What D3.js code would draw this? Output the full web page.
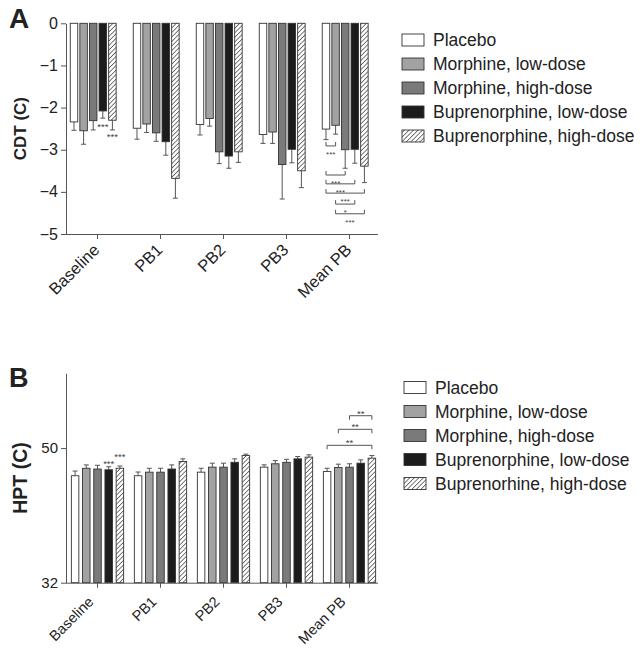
<!DOCTYPE html>
<html><head><meta charset="utf-8">
<script src="https://cdn.jsdelivr.net/npm/d3@7"></script>
<style>
html,body{margin:0;padding:0;background:#fff;}
svg{display:block;font-family:"Liberation Sans",Arial,sans-serif;}
</style></head>
<body>
<svg id="chart" width="644" height="658"></svg>
<script>
// ---------- DATA ----------
const categories = ["Baseline", "PB1", "PB2", "PB3", "Mean PB"];
const seriesA = ["Placebo", "Morphine, low-dose", "Morphine, high-dose", "Buprenorphine, low-dose", "Buprenorphine, high-dose"];
const seriesB = ["Placebo", "Morphine, low-dose", "Morphine, high-dose", "Buprenorphine, low-dose", "Buprenorhine, high-dose"];

// Panel A: CDT (C), mean and SEM per series across categories
const cdtPlacebo   = [-2.34, -2.49, -2.40, -2.64, -2.51];
const cdtMorphLow  = [-2.55, -2.39, -2.26, -2.58, -2.42];
const cdtMorphHigh = [-2.31, -2.60, -3.05, -3.35, -3.00];
const cdtBupLow    = [-2.08, -2.81, -3.15, -2.99, -2.99];
const cdtBupHigh   = [-2.30, -3.68, -3.05, -3.50, -3.39];
const cdtErrPlacebo   = [0.20, 0.26, 0.25, 0.21, 0.25];
const cdtErrMorphLow  = [0.32, 0.20, 0.18, 0.27, 0.21];
const cdtErrMorphHigh = [0.22, 0.20, 0.28, 0.82, 0.44];
const cdtErrBupLow    = [0.17, 0.32, 0.29, 0.32, 0.33];
const cdtErrBupHigh   = [0.23, 0.47, 0.25, 0.40, 0.39];
const cdtTicks = [-5, -4, -3, -2, -1, 0];

// Panel B: HPT (C)
const hptPlacebo   = [46.30, 46.30, 46.78, 47.45, 46.86];
const hptMorphLow  = [47.30, 46.78, 47.45, 47.90, 47.40];
const hptMorphHigh = [47.20, 46.78, 47.45, 48.10, 47.45];
const hptBupLow    = [47.10, 47.20, 48.10, 48.56, 47.98];
const hptBupHigh   = [47.30, 48.20, 49.00, 48.79, 48.65];
const hptErrPlacebo   = [0.63, 0.50, 0.52, 0.31, 0.44];
const hptErrMorphLow  = [0.45, 0.52, 0.53, 0.43, 0.45];
const hptErrMorphHigh = [0.50, 0.52, 0.53, 0.40, 0.45];
const hptErrBupLow    = [0.40, 0.55, 0.46, 0.31, 0.44];
const hptErrBupHigh   = [0.30, 0.36, 0.19, 0.31, 0.35];
const hptTicks = [32, 50];

// Significance annotations: [category, seriesIndex, label, level(data units)]
const starsA = [["Baseline", 3, "***", -2.40], ["Baseline", 4, "***", -2.63]];
const starsB = [["Baseline", 3, "***", 48.18], ["Baseline", 4, "***", 49.07]];
// Brackets: [category, fromSeries, toSeries, label, level(data units)]
const bracketsA = [
  ["Mean PB", 0, 1, "***", -2.91],
  ["Mean PB", 0, 2, "***", -3.60],
  ["Mean PB", 0, 3, "***", -3.81],
  ["Mean PB", 0, 4, "***", -4.03],
  ["Mean PB", 1, 3, "*",   -4.29],
  ["Mean PB", 1, 4, "***", -4.52]
];
const bracketsB = [
  ["Mean PB", 0, 4, "**", 50.37],
  ["Mean PB", 1, 4, "**", 52.51],
  ["Mean PB", 2, 4, "**", 54.33]
];

// ---------- STYLE ----------
const fills = ["#ffffff", "#a2a2a2", "#7a7a7a", "#1c1c1c", "url(#hatch)"];
const axisColor = "#555";
const textColor = "#222";
const font = '"Liberation Sans", Arial, sans-serif';

const svg = d3.select("#chart");
const defs = svg.append("defs");
const pat = defs.append("pattern").attr("id", "hatch")
  .attr("patternUnits", "userSpaceOnUse").attr("width", 3.2).attr("height", 3.2)
  .attr("patternTransform", "rotate(45)");
pat.append("rect").attr("width", 3.2).attr("height", 3.2).attr("fill", "#fff");
pat.append("line").attr("x1", 0).attr("y1", 0).attr("x2", 0).attr("y2", 3.2)
  .attr("stroke", "#222").attr("stroke-width", 1.2);

function buildRows(means, errs) {
  return categories.map((c, ci) => ({
    cat: c,
    vals: means.map((m, si) => ({ si, v: m[ci], e: errs[si][ci] }))
  }));
}

function drawPanel(opt) {
  const g = svg.append("g");
  const x0 = d3.scaleBand().domain(categories).range([opt.left, opt.left + 315]);
  const x1 = d3.scaleBand().domain(d3.range(5)).range(opt.innerRange).paddingInner(opt.pad);
  const y = d3.scaleLinear().domain(opt.domain).range([opt.bottom, opt.top]);
  const cx = c => x0(c) + x0.bandwidth() / 2;
  const rows = buildRows(opt.means, opt.errs);
  const base = opt.baseValue;

  // bars
  rows.forEach(r => {
    const cg = g.append("g");
    r.vals.forEach(d => {
      const xl = cx(r.cat) + x1(d.si);
      const y1 = y(base), y2 = y(d.v);
      const ye = y(d.v + opt.errDir * d.e);
      const xm = xl + x1.bandwidth() / 2;
      cg.append("line").attr("x1", xm).attr("x2", xm).attr("y1", y2).attr("y2", ye)
        .attr("stroke", "#555").attr("stroke-width", 1);
      cg.append("line").attr("x1", xm - 2.5).attr("x2", xm + 2.5).attr("y1", ye).attr("y2", ye)
        .attr("stroke", "#555").attr("stroke-width", 1);
      cg.append("rect").attr("x", xl).attr("width", x1.bandwidth())
        .attr("y", Math.min(y1, y2)).attr("height", Math.abs(y2 - y1))
        .attr("fill", fills[d.si]).attr("stroke", "#333").attr("stroke-width", 0.9);
    });
  });

  // y axis
  const yAxis = d3.axisLeft(y).tickValues(opt.ticks).tickSize(5).tickSizeOuter(0)
    .tickFormat(d => d < 0 ? "\u2212" + Math.abs(d) : String(d));
  const ya = g.append("g").attr("transform", `translate(${opt.left},0)`).call(yAxis);
  ya.select(".domain").attr("stroke", axisColor);
  ya.selectAll(".tick line").attr("stroke", axisColor);
  ya.selectAll(".tick text").attr("fill", textColor).attr("font-size", opt.tickFont)
    .attr("font-family", font).attr("x", -8);

  // x axis
  const xAxis = d3.axisBottom(x0).tickSize(5).tickSizeOuter(0);
  const xa = g.append("g").attr("transform", `translate(0,${opt.bottom})`).call(xAxis);
  xa.select(".domain").attr("d", `M${opt.left},0.5H${opt.left + 312}`).attr("stroke", axisColor);
  xa.selectAll(".tick line").attr("stroke", axisColor);
  xa.selectAll(".tick text").attr("fill", textColor).attr("font-size", opt.xFont)
    .attr("font-family", font).attr("text-anchor", "end").attr("dy", null)
    .attr("y", 0).attr("transform", `translate(${opt.xlDx},${opt.xlDy}) rotate(-45)`);

  // y title
  g.append("text").attr("transform", `translate(${opt.titleX},${(opt.top + opt.bottom) / 2}) rotate(-90)`)
    .attr("text-anchor", "middle").attr("font-weight", "bold").attr("font-size", opt.titleFont)
    .attr("font-family", font).attr("fill", textColor).text(opt.title);

  // panel letter
  g.append("text").attr("x", 9).attr("y", opt.letterY).attr("font-weight", "bold")
    .attr("font-size", opt.letterFont).attr("font-family", font).attr("fill", textColor).text(opt.letter);

  // stars
  opt.stars.forEach(s => {
    const xm = cx(s[0]) + x1(s[1]) + x1.bandwidth() / 2;
    g.append("text").attr("x", xm).attr("y", y(s[3]) + 5.4).attr("text-anchor", "middle")
      .attr("font-size", 9.5).attr("font-family", font).attr("fill", "#444").text(s[2]);
  });

  // brackets
  const bf = opt.bracketFont;
  opt.brackets.forEach(b => {
    const xa1 = cx(b[0]) + x1(b[1]) + x1.bandwidth() / 2;
    const xa2 = cx(b[0]) + x1(b[2]) + x1.bandwidth() / 2;
    const yy = y(b[4]);
    const t = opt.bracketDir * 4;
    g.append("path").attr("d", `M${xa1},${yy + t}V${yy}H${xa2}V${yy + t}`)
      .attr("fill", "none").attr("stroke", "#555").attr("stroke-width", 1);
    const ly = opt.bracketDir < 0 ? yy + 6.5 + bf * 0.57 : yy - 4.5 + bf * 0.57;
    g.append("text").attr("x", (xa1 + xa2) / 2).attr("y", ly).attr("text-anchor", "middle")
      .attr("font-size", bf).attr("font-family", font).attr("fill", "#444").text(b[3]);
  });

  // legend
  const lg = g.append("g");
  opt.series.forEach((name, i) => {
    const cy = opt.legY + i * 24;
    lg.append("rect").attr("x", opt.legX).attr("y", cy - 6).attr("width", 22).attr("height", 12)
      .attr("fill", fills[i]).attr("stroke", "#333").attr("stroke-width", 0.9);
    lg.append("text").attr("x", opt.legX + 31).attr("y", cy + 6.3)
      .attr("font-size", 17.5).attr("font-family", font).attr("fill", textColor).text(name);
  });
}

drawPanel({
  means: [cdtPlacebo, cdtMorphLow, cdtMorphHigh, cdtBupLow, cdtBupHigh],
  errs: [cdtErrPlacebo, cdtErrMorphLow, cdtErrMorphHigh, cdtErrBupLow, cdtErrBupHigh],
  ticks: cdtTicks, domain: [-5, 0], baseValue: 0, errDir: -1,
  left: 66, top: 23.3, bottom: 234,
  innerRange: [-27.25, 18.65], pad: 0.22,
  tickFont: 16, xFont: 16.5, xlDx: 3, xlDy: 17,
  title: "CDT (C)", titleX: 26, titleFont: 17,
  letter: "A", letterY: 28, letterFont: 28,
  stars: starsA, brackets: bracketsA, bracketDir: -1, bracketFont: 8,
  series: seriesA, legX: 402, legY: 40
});

drawPanel({
  means: [hptPlacebo, hptMorphLow, hptMorphHigh, hptBupLow, hptBupHigh],
  errs: [hptErrPlacebo, hptErrMorphLow, hptErrMorphHigh, hptErrBupLow, hptErrBupHigh],
  ticks: hptTicks, domain: [32, 60], baseValue: 32, errDir: 1,
  left: 66, top: 373.3, bottom: 582.7,
  innerRange: [-26.15, 26.15], pad: 0.33,
  tickFont: 15, xFont: 14.5, xlDx: -3, xlDy: 20,
  title: "HPT (C)", titleX: 27, titleFont: 19.5,
  letter: "B", letterY: 387, letterFont: 27,
  stars: starsB, brackets: bracketsB, bracketDir: 1, bracketFont: 9.5,
  series: seriesB, legX: 404, legY: 387.5
});
</script>
</body></html>
